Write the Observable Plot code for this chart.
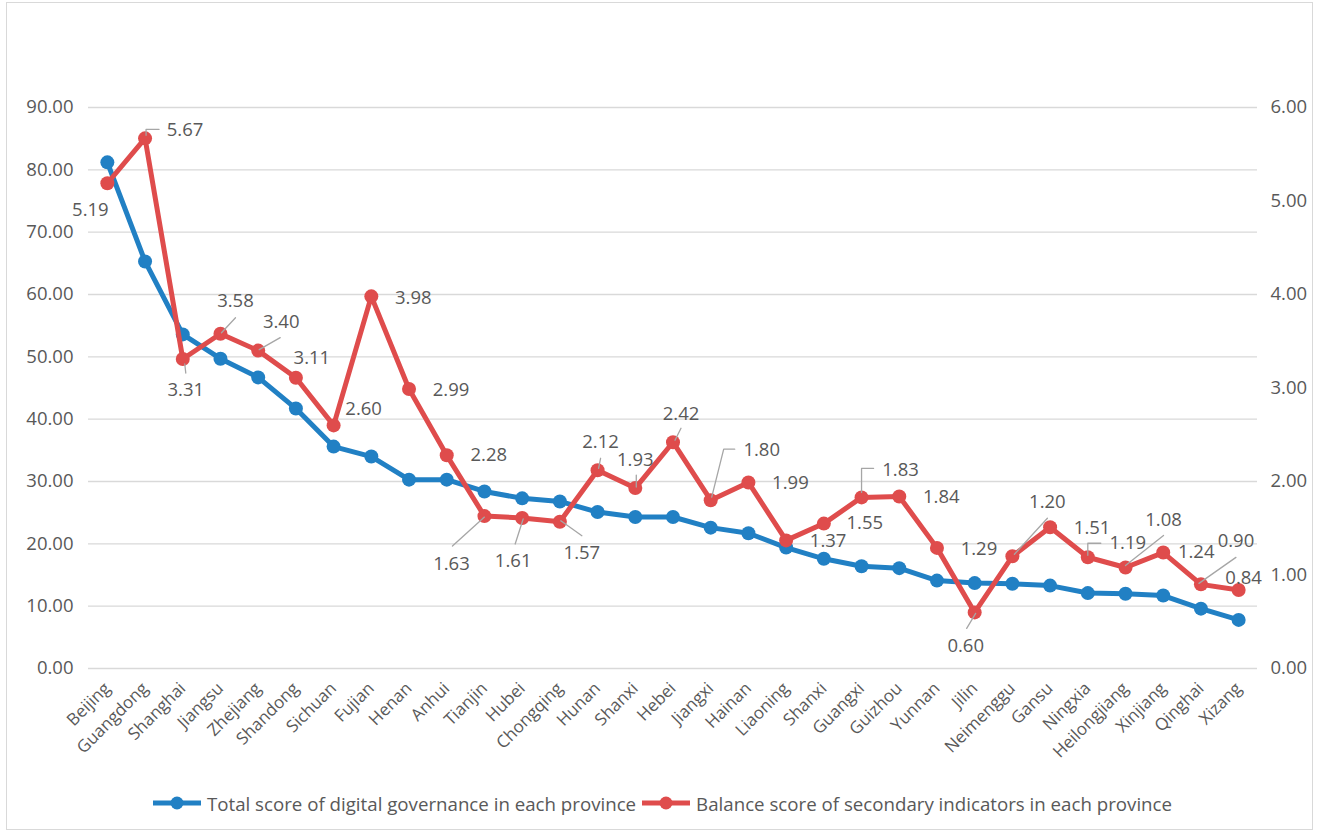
<!DOCTYPE html>
<html>
<head>
<meta charset="utf-8">
<script src="https://cdn.jsdelivr.net/npm/d3@7"></script>
<script src="https://cdn.jsdelivr.net/npm/@observablehq/plot@0.6"></script>
<style>
  body { margin: 0; background: #fff; font-family: "Open Sans", Lato, sans-serif; }
  #frame { position: absolute; left: 6px; top: 2px; width: 1307px; height: 828px; border: 1px solid #d9d9d9; box-sizing: border-box; }
  #chart { position: absolute; left: 0; top: 0; }
  #legend { position: absolute; left: 0; top: 791px; width: 1325px; height: 24px; display: flex; justify-content: center; align-items: center; font-size: 18.7px; color: #595959; white-space: nowrap; }
  #legend svg { display: block; }
  #legend .lbl { margin-left: 6px; }
  #legend .sw2 { margin-left: 6px; }
</style>
</head>
<body>
<div id="frame"></div>
<div id="chart"></div>
<div id="legend"></div>
<script>
// ---- data ----
const provinces = ["Beijing","Guangdong","Shanghai","Jiangsu","Zhejiang","Shandong","Sichuan","Fujian","Henan","Anhui","Tianjin","Hubei","Chongqing","Hunan","Shanxi","Hebei","Jiangxi","Hainan","Liaoning","Shanxi","Guangxi","Guizhou","Yunnan","Jilin","Neimenggu","Gansu","Ningxia","Heilongjiang","Xinjiang","Qinghai","Xizang"];
const totalScore = [81.2,65.3,53.6,49.7,46.7,41.7,35.6,34.0,30.3,30.3,28.4,27.3,26.8,25.1,24.3,24.3,22.6,21.7,19.4,17.6,16.4,16.1,14.1,13.7,13.6,13.3,12.1,12.0,11.7,9.6,7.8];
const balanceScore = [5.19,5.67,3.31,3.58,3.40,3.11,2.60,3.98,2.99,2.28,1.63,1.61,1.57,2.12,1.93,2.42,1.80,1.99,1.37,1.55,1.83,1.84,1.29,0.60,1.20,1.51,1.19,1.08,1.24,0.90,0.84];
const leftTicks = [0,10,20,30,40,50,60,70,80,90];
const rightTicks = [0,1,2,3,4,5,6];
const seriesNames = ["Total score of digital governance in each province","Balance score of secondary indicators in each province"];

// ---- layout (label placement offsets in px relative to each red point) ----
const labelOffsets = [[-17,27],[40,-8],[3,31],[15,-33],[23,-29],[16,-20],[30,-16],[42,2],[42,1],[42,0],[-33,48],[-9,43],[22,31],[3,-28],[0,-28],[8,-28],[51,-50],[42,1],[42,1],[41,0],[39,-27],[42,1],[42,1],[-9,34],[35,-54],[42,1],[40,-14],[38,-47],[33,0],[35,-43],[5,-12]];
const leaderPaths = {1:[[1,-3],[1,-9],[14,-9]],2:[[2,5],[3,14]],3:[[1,-1],[15,-16]],4:[[1,-1],[22,-13]],10:[[0,1],[-32,30]],11:[[1,1],[-7,26]],12:[[1,-1],[22,14]],13:[[1,-2],[3,-12]],14:[[1,-1],[1,-13]],15:[[2,-2],[8,-14]],16:[[1,-3],[13,-51],[24,-51]],20:[[0,-5],[0,-29],[12,-29]],23:[[1,1],[-8,16]],24:[[2,-2],[35,-38]],26:[[0,-2],[0,-14],[13,-14]],27:[[0,-2],[38,-32]],29:[[-2,-1],[35,-27]]};

const BLUE = "#2180c4", RED = "#df4c4c", TEXT = "#595959", GRID = "#d9d9d9", LEADER = "#a6a6a6";
const FONT = "'Open Sans', Lato, sans-serif";
const W = 1325, H = 775, mL = 88, mR = 68, mT = 107, mB = 107;
const yMax = 90, rMax = 6, ratio = yMax / rMax;
const kx = (W - mL - mR) / provinces.length;
const ky = (H - mT - mB) / yMax;

const rows = provinces.map((p, i) => ({i, p, total: totalScore[i], bal: balanceScore[i], bal15: balanceScore[i] * ratio}));
const labels = rows.map(d => ({
  x: d.i + labelOffsets[d.i][0] / kx,
  y: d.bal15 - labelOffsets[d.i][1] / ky,
  t: d.bal.toFixed(2)
}));
const leaders = [];
for (const [k, pts] of Object.entries(leaderPaths)) {
  const d = rows[+k];
  pts.forEach(([ox, oy]) => leaders.push({id: +k, x: d.i + ox / kx, y: d.bal15 - oy / ky}));
}

const chart = Plot.plot({
  width: W, height: H,
  marginLeft: mL, marginRight: mR, marginTop: mT, marginBottom: mB,
  style: {color: TEXT, fontFamily: FONT, background: "transparent"},
  x: {type: "linear", domain: [-0.5, provinces.length - 0.5], label: null},
  y: {domain: [0, yMax], label: null},
  marks: [
    Plot.gridY(leftTicks, {stroke: GRID, strokeOpacity: 1, strokeWidth: 1.3}),
    Plot.axisY(leftTicks, {anchor: "left", tickSize: 0, tickPadding: 15, tickFormat: d => d.toFixed(2), fontSize: 18.5, label: null}),
    Plot.axisY(rightTicks.map(d => d * ratio), {anchor: "right", tickSize: 0, tickPadding: 13, tickFormat: d => (d / ratio).toFixed(2), fontSize: 18.5, label: null}),
    Plot.axisX(d3.range(provinces.length), {tickFormat: i => provinces[i], tickRotate: -45, tickSize: 0, tickPadding: 17, fontSize: 17, label: null}),
    Plot.line(rows, {x: "i", y: "total", stroke: BLUE, strokeWidth: 5, strokeLinejoin: "round"}),
    Plot.dot(rows, {x: "i", y: "total", r: 7, fill: BLUE}),
    Plot.line(rows, {x: "i", y: "bal15", stroke: RED, strokeWidth: 5, strokeLinejoin: "round"}),
    Plot.dot(rows, {x: "i", y: "bal15", r: 7, fill: RED}),
    Plot.line(leaders, {x: "x", y: "y", z: "id", stroke: LEADER, strokeWidth: 1.3}),
    Plot.text(labels, {x: "x", y: "y", text: "t", fontSize: 18.5, fill: TEXT})
  ]
});
document.getElementById("chart").appendChild(chart);

// ---- legend ----
const legend = document.getElementById("legend");
[[BLUE, seriesNames[0]], [RED, seriesNames[1]]].forEach(([c, name], k) => {
  const sw = document.createElementNS("http://www.w3.org/2000/svg", "svg");
  sw.setAttribute("width", 48); sw.setAttribute("height", 16);
  if (k === 1) sw.setAttribute("class", "sw2");
  sw.innerHTML = `<line x1="0" y1="8" x2="48" y2="8" stroke="${c}" stroke-width="5"/><circle cx="24" cy="8" r="6.5" fill="${c}"/>`;
  legend.appendChild(sw);
  const s = document.createElement("span");
  s.className = "lbl"; s.textContent = name;
  legend.appendChild(s);
});
</script>
</body>
</html>
